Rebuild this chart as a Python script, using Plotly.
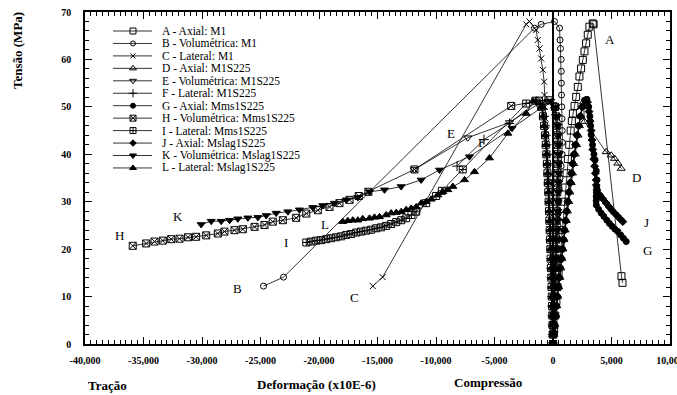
import plotly.graph_objects as go

# ---------------- data (strain x10E-6, stress MPa) ----------------
A_x = [0, 100, 190, 290, 380, 470, 560, 650, 750, 850, 950, 1050, 1160, 1270, 1390, 1510, 1610, 1700,
       1840, 1980, 2120, 2260, 2400, 2550, 2690, 2830, 2970, 3110, 3400, 3470, 5850, 5940]
A_y = [0, 3, 6, 9, 12, 15, 18, 21, 24, 27, 30, 33, 36, 39, 42, 45, 47, 48.6,
       50.2, 52.1, 54.2, 56.4, 58.1, 59.9, 61.7, 63.4, 65.2, 66.9, 67.6, 67.4, 14.3, 12.9]

B_x = [0, 40, 80, 120, 160, 200, 240, 280, 320, 360, 400, 440, 480, 520, 600, 700, 780, 800, 790, 770,
       750, 730, 720, 710, 700, 640, 600, 560, 130, -1010, -1580, -23030, -24740]
B_y = [0, 2.5, 5, 7.5, 10, 12.5, 15, 17.5, 20, 22.5, 25, 27.5, 30, 32.5, 35, 37.5, 40, 42.5, 45, 47.5,
       50, 52.5, 55, 57.5, 60, 62.3, 64.1, 66.6, 68.0, 67.4, 66.6, 14.1, 12.2]

C_x = [0, -25, -50, -75, -100, -125, -150, -180, -210, -240, -270, -300, -330, -370, -410, -450, -490,
       -540, -590, -640, -690, -730, -760, -870, -1010, -1150, -1300, -1440, -2010, -2290, -14560, -15400]
C_y = [0, 2.5, 5, 7.5, 10, 12.5, 15, 17.5, 20, 22.5, 25, 27.5, 30, 32.5, 35, 37.5, 40,
       42.5, 45, 47.5, 50, 52.5, 55.3, 57.8, 60.2, 62.3, 64.1, 66.2, 68.0, 67.4, 14.1, 12.2]

D_x = [0, 80, 160, 240, 320, 400, 490, 580, 670, 760, 850, 940, 1040, 1140, 1240, 1340, 1450, 1560,
       1670, 1780, 1900, 2020, 2140, 2260, 2360, 2450, 2600, 2690, 4540, 4970, 5260, 5540, 5830]
D_y = [0, 2, 4, 6, 8, 10, 12, 14, 16, 18, 20, 22, 24, 26, 28, 30, 32, 34,
       36, 38, 40, 42, 44, 46, 48, 50, 51.0, 46.9, 40.5, 39.8, 39.1, 38.1, 37.0]

E_x = [0, 30, 60, 90, 120, 150, 180, 210, 240, 270, 300, 330, 360, 390, 410, 430, 450, 460, 460, 450,
       430, 400, 360, 300, 220, 120, 0, -400, -1000, -3720, -7280, -11840]
E_y = [0, 2, 4, 6, 8, 10, 12, 14, 16, 18, 20, 22, 24, 26, 28, 30, 32, 34, 36, 38,
       40, 42, 44, 46, 48, 49.5, 50.5, 51.2, 51.0, 46.7, 43.5, 36.8]

F_x = [0, -15, -30, -45, -60, -80, -100, -120, -140, -160, -185, -210, -235, -260, -290, -320, -350,
       -385, -420, -460, -500, -550, -610, -680, -770, -900, -1100, -1400, -3720, -5900, -8200]
F_y = [0, 2, 4, 6, 8, 10, 12, 14, 16, 18, 20, 22, 24, 26, 28, 30, 32,
       34, 36, 38, 40, 42, 44, 46, 48, 49.5, 50.5, 51.1, 46.5, 43.1, 37.5]

G_x = [0, 70, 150, 230, 310, 390, 470, 550, 640, 730, 820, 910, 1000, 1090, 1180, 1280, 1380, 1480,
       1590, 1700, 1820, 1940, 2070, 2200, 2350, 2520, 2700, 2900, 3050, 3150, 3220, 3260, 3380, 3500,
       3600, 3700, 3760, 3740, 3710, 3690, 3690, 3700, 3900, 4120, 4350, 4600, 4830, 5060, 5300, 5540,
       5780, 6020, 6260]
G_y = [0, 2, 4, 6, 8, 10, 12, 14, 16, 18, 20, 22, 24, 26, 28, 30, 32, 34,
       36, 38, 40, 42, 44, 46, 48, 50, 51.4, 51.6, 50, 48, 46, 44.1, 42, 40,
       38.8, 36.5, 34.6, 33, 32, 31.1, 30.2, 29.3, 28.4, 27.6, 26.9, 26.1, 25.4, 24.8, 24.2, 23.7,
       23.0, 22.3, 21.6]

H_x = [0, 20, 40, 60, 85, 110, 135, 160, 185, 210, 235, 260, 285, 310, 330, 350, 365, 380, 390, 395,
       390, 375, 350, 310, 250, 170, -300, -1200, -3570, -11840, -15780, -16600, -17390, -18250, -19100,
       -20100, -21090, -21950, -23090, -23950, -24660, -25510, -26510, -27220, -28080, -28650, -29640,
       -30500, -31200, -31920, -32630, -33350, -34060, -34770, -35920]
H_y = [0, 2, 4, 6, 8, 10, 12, 14, 16, 18, 20, 22, 24, 26, 28, 30, 32, 34, 36, 38,
       40, 42, 44, 46, 48, 50, 51.4, 51.3, 50.2, 36.8, 32.1, 31.2, 30.4, 29.7, 28.9,
       28.2, 27.5, 26.6, 26.1, 25.8, 25.1, 24.7, 24.2, 24.0, 23.7, 23.3, 22.9,
       22.6, 22.5, 22.2, 22.1, 21.8, 21.6, 21.2, 20.7]

I_x = [0, -20, -40, -60, -80, -100, -125, -150, -175, -200, -225, -250, -280, -310, -340, -370, -400,
       -440, -480, -520, -570, -620, -680, -760, -860, -1000, -1500, -2290, -7710, -9500, -9990, -10840,
       -11690, -12100, -12550, -12970, -13400, -13830, -14260, -14690, -15110, -15540, -15970, -16400,
       -16820, -17250, -17670, -18100, -18530, -18960, -19390, -19820, -20240, -20670, -21090]
I_y = [0, 2, 4, 6, 8, 10, 12, 14, 16, 18, 20, 22, 24, 26, 28, 30, 32,
       34, 36, 38, 40, 42, 44, 46, 48, 50, 51.3, 50.7, 36.8, 32.3, 31.2, 29.7,
       27.9, 27.2, 26.5, 26.1, 25.7, 25.3, 24.9, 24.6, 24.4, 24.1, 23.9, 23.7,
       23.5, 23.2, 23.0, 22.7, 22.5, 22.3, 22.1, 21.9, 21.8, 21.6, 21.4]

J_x = [0, 60, 130, 210, 290, 370, 450, 530, 610, 700, 790, 880, 970, 1060, 1160, 1260, 1360, 1460,
       1570, 1680, 1800, 1920, 2050, 2190, 2340, 2500, 2750, 2950, 3080, 3180, 3260, 3330, 3400, 3480,
       3560, 3620, 3690, 3700, 3750, 3970, 4260, 4550, 4800, 5030, 5260, 5500, 5730, 5970]
J_y = [0, 2, 4, 6, 8, 10, 12, 14, 16, 18, 20, 22, 24, 26, 28, 30, 32, 34,
       36, 38, 40, 42, 44, 46, 48, 50, 51.3, 51.0, 49, 47, 45, 43, 41, 39,
       37.5, 36, 34.6, 33.5, 32.5, 31.5, 30.6, 29.7, 28.9, 28.2, 27.6, 27.0, 26.4, 25.8]

K_x = [0, 25, 50, 75, 100, 130, 160, 190, 220, 250, 280, 310, 340, 370, 400, 430, 455, 480, 500, 510,
       510, 500, 470, 420, 340, 220, -200, -3500, -7140, -9700, -11270, -12980, -14400, -15680, -16680,
       -17670, -18680, -19670, -20530, -21670, -22660, -23660, -24510, -25220, -26080, -26940, -27640,
       -28360, -29210, -30070]
K_y = [0, 2, 4, 6, 8, 10, 12, 14, 16, 18, 20, 22, 24, 26, 28, 30, 32, 34, 36, 38,
       40, 42, 44, 46, 48, 50, 51.2, 45.5, 39.5, 36.7, 34.6, 33.2, 32.5, 32.1, 30.9,
       30.4, 29.7, 29.2, 28.8, 28.3, 27.9, 27.6, 27.1, 26.7, 26.6, 26.4, 26.1,
       25.9, 25.9, 25.2]

L_x = [0, -15, -30, -50, -70, -90, -110, -130, -150, -175, -200, -225, -250, -280, -310, -340, -370,
       -410, -450, -500, -550, -610, -680, -760, -860, -1000, -1700, -2290, -3860, -5430, -6710, -7560,
       -8560, -8990, -9420, -9840, -10410, -10840, -11260, -11690, -12120, -12550, -12970, -13400,
       -13830, -14260, -14830, -15260, -15680, -16260, -16680, -17110, -17540, -17970]
L_y = [0, 2, 4, 6, 8, 10, 12, 14, 16, 18, 20, 22, 24, 26, 28, 30, 32,
       34, 36, 38, 40, 42, 44, 46, 48, 50, 51.2, 48.6, 44.4, 39.2, 36.3, 34.6,
       33.2, 32.5, 32.1, 31.4, 30.5, 30.0, 29.7, 28.9, 28.6, 28.3, 27.9, 27.7,
       27.6, 27.2, 26.8, 26.7, 26.5, 26.4, 26.1, 26.1, 26.0, 25.8]

series_names = ["A - Axial: M1", "B - Volumétrica: M1", "C - Lateral: M1",
                "D - Axial: M1S225", "E - Volumétrica: M1S225", "F - Lateral: M1S225",
                "G - Axial: Mms1S225", "H - Volumétrica: Mms1S225", "I - Lateral: Mms1S225",
                "J - Axial: Mslag1S225", "K - Volumétrica: Mslag1S225", "L - Lateral: Mslag1S225"]
series_x = [A_x, B_x, C_x, D_x, E_x, F_x, G_x, H_x, I_x, J_x, K_x, L_x]
series_y = [A_y, B_y, C_y, D_y, E_y, F_y, G_y, H_y, I_y, J_y, K_y, L_y]

label_letters = ["A", "B", "C", "D", "E", "F", "G", "H", "I", "J", "K", "L"]
label_x = [4830, -26970, -16970, 7140, -8680, -6110, 8080, -37050, -22860, 7990, -32010, -19530]
label_y = [64.1, 11.8, 9.9, 35.2, 44.3, 42.4, 19.8, 22.8, 21.5, 25.7, 26.8, 25.3]

xtick_vals = [-40000, -35000, -30000, -25000, -20000, -15000, -10000, -5000, 0, 5000, 10000]
xtick_text = ["-40,000", "-35,000", "-30,000", "-25,000", "-20,000", "-15,000", "-10,000",
              "-5,000", "0", "5,000", "10,000"]

# ---------------- styles ----------------
symbols = ["square-open", "circle-open", "x-thin-open", "triangle-up-open", "triangle-down-open",
           "cross-thin-open", "circle", "square-x-open", "square-cross-open", "diamond",
           "triangle-down", "triangle-up"]
sizes = [7, 6, 6, 7, 7, 7, 6, 7, 7, 6, 7, 7]
SERIF = "Liberation Serif"

# page-pixel -> paper helpers (plot area: x 85..670, y 12..344)
def px(xp):
    return (xp - 85) / 585.0

def py(yp):
    return (344 - yp) / 332.0

fig = go.Figure()
for name, xs, ys, sym, sz in zip(series_names, series_x, series_y, symbols, sizes):
    fig.add_trace(go.Scatter(
        x=xs, y=ys, mode="lines+markers", name=name, showlegend=False,
        line=dict(color="black", width=0.8),
        marker=dict(symbol=sym, size=sz, color="black", line=dict(color="black", width=1))))

# custom compact legend (overlay axes in page-pixel units)
leg_x = [113, 133, 152]
for i, (name, sym, sz) in enumerate(zip(series_names, symbols, sizes)):
    yy = 31 + 12.45 * i
    fig.add_trace(go.Scatter(
        x=leg_x, y=[yy] * 3, xaxis="x2", yaxis="y2", mode="lines+markers", showlegend=False,
        hoverinfo="skip",
        line=dict(color="black", width=0.8),
        marker=dict(symbol=sym, size=sz - 1, color="black", opacity=[0, 1, 0],
                    line=dict(color="black", width=1))))
    fig.add_annotation(x=px(160), y=py(yy), xref="paper", yref="paper", text=name, showarrow=False,
                       xanchor="left", yanchor="middle",
                       font=dict(family=SERIF, size=11.5, color="black"))

for t, lx, ly in zip(label_letters, label_x, label_y):
    fig.add_annotation(x=lx, y=ly, xref="x", yref="y", text=t, showarrow=False,
                       xanchor="center", yanchor="middle",
                       font=dict(family=SERIF, size=13, color="black"))

# axis titles
bold13 = dict(family=SERIF, size=13, color="black", weight="bold")
titles = [("Tensão (MPa)", 17, 51, -90), ("Tração", 107, 385, 0),
          ("Deformação (x10E-6)", 316, 384, 0), ("Compressão", 488, 383, 0)]
for txt, tx, ty, ang in titles:
    fig.add_annotation(x=px(tx), y=py(ty), xref="paper", yref="paper", text=txt, textangle=ang,
                       xanchor="center", yanchor="middle", showarrow=False, font=bold13)

tickfont = dict(family=SERIF, size=10, color="black", weight="bold")
fig.update_layout(
    width=677, height=395,
    margin=dict(l=85, r=7, t=12, b=51, autoexpand=False),
    paper_bgcolor="white", plot_bgcolor="white",
    xaxis=dict(range=[-40000, 10000], tickmode="array", tickvals=xtick_vals, ticktext=xtick_text,
               ticks="inside", ticklen=7, tickwidth=1, tickcolor="black",
               minor=dict(dtick=500, tick0=0, ticks="inside", ticklen=4, tickcolor="black", tickwidth=1),
               showline=True, linecolor="black", linewidth=1.5, mirror="ticks",
               showgrid=False, zeroline=True, zerolinecolor="black", zerolinewidth=2,
               tickfont=tickfont, ticklabelstandoff=6, ticklabeloverflow="allow", automargin=False),
    yaxis=dict(range=[0, 70], dtick=10, ticks="inside", ticklen=7, tickwidth=1, tickcolor="black",
               minor=dict(dtick=2, ticks="inside", ticklen=4, tickcolor="black", tickwidth=1),
               showline=True, linecolor="black", linewidth=1.5, mirror="ticks",
               showgrid=False, zeroline=False, tickfont=tickfont, ticklabelstandoff=10,
               automargin=False),
    xaxis2=dict(range=[85, 670], overlaying="x", visible=False, anchor="y2"),
    yaxis2=dict(range=[344, 12], overlaying="y", visible=False, anchor="x2"),
)

fig.write_html("out.html")
